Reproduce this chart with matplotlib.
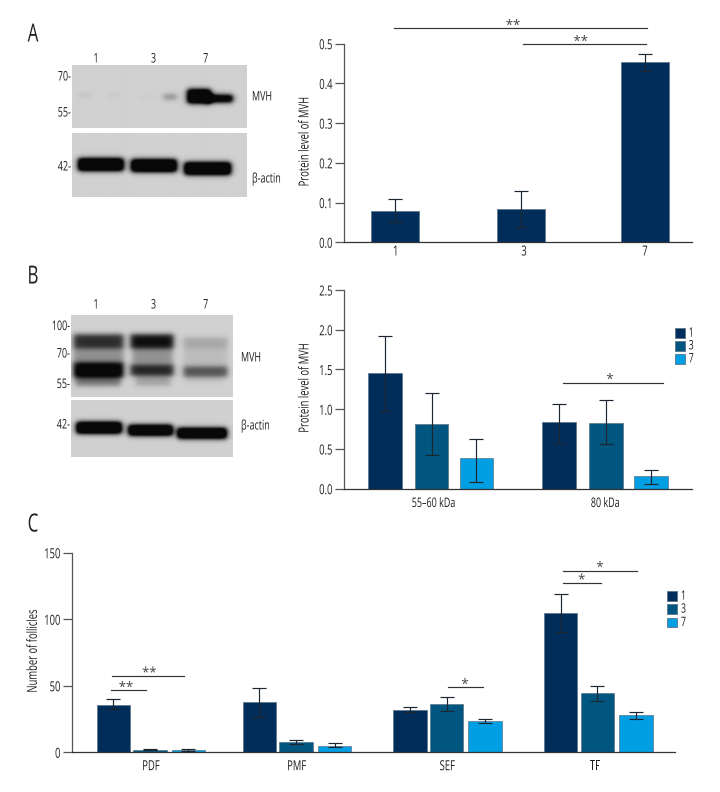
import numpy as np
import matplotlib
matplotlib.use("Agg")
import matplotlib.pyplot as plt
from matplotlib.patches import Rectangle
from matplotlib.lines import Line2D
from matplotlib.patheffects import AbstractPathEffect
from matplotlib.transforms import Affine2D, Bbox

plt.rcParams['font.family'] = ['Open Sans', 'DejaVu Sans']

W, H = 720, 792
DPI = 100
NAVY, TEAL, SKY = '#002d5a', '#00567f', '#009fe3'
TXT = '#1f1f1f'

# ---- data ----
a_days = ['1', '3', '7']
a_vals = [0.08, 0.085, 0.455]
a_low = [0.05, 0.038, 0.432]
a_up = [0.108, 0.13, 0.475]

b_groups = ['55–60 kDa', '80 kDa']
b_d1_vals, b_d1_low, b_d1_up = [1.45, 0.84], [0.98, 0.58], [1.92, 1.065]
b_d3_vals, b_d3_low, b_d3_up = [0.81, 0.83], [0.42, 0.56], [1.20, 1.115]
b_d7_vals, b_d7_low, b_d7_up = [0.38, 0.16], [0.08, 0.065], [0.625, 0.24]

c_groups = ['PDF', 'PMF', 'SEF', 'TF']
c_d1_vals, c_d1_low, c_d1_up = [35.5, 37.5, 31.8, 105], [32.3, 26.8, 30, 90.2], [39.8, 48, 33.8, 119]
c_d3_vals, c_d3_low, c_d3_up = [2, 7.5, 36, 44.6], [1.5, 6, 31.3, 38.6], [2.8, 9, 41.3, 49.6]
c_d7_vals, c_d7_low, c_d7_up = [1.5, 4.8, 23.3, 27.8], [1.2, 3.8, 22, 24.8], [2.2, 7, 24.8, 30]

# blot bands: x0, x1, y0, y1, strength (figure pixels)
blot_a_top = [(78, 92, 94, 97.5, 0.09), (108, 120, 94.5, 97.5, 0.07), (140, 152, 96.5, 99, 0.05),
              (163, 176, 95, 99.5, 0.4), (187, 210, 90, 103.5, 1.7), (205, 232, 95.5, 102.5, 1.5)]
blot_a_bot = [(78, 123, 158, 170, 1.7), (131, 176, 159, 171, 1.7), (184, 230, 162, 174, 1.7)]
blot_b_top = [(73, 123, 335, 349, 0.8), (73, 123, 349, 363, 0.3), (73, 123, 363, 378, 1.1),
              (75, 120, 378, 386, 0.45), (130, 173, 335, 349, 0.95), (132, 172, 349, 364, 0.3),
              (130, 173, 365, 376, 0.85), (135, 170, 376, 386, 0.22), (183, 227, 338, 349, 0.2),
              (183, 227, 349, 367, 0.1), (183, 227, 367, 377, 0.62), (185, 222, 377, 382, 0.1)]
blot_b_bot = [(76, 121, 422, 433, 1.7), (128, 172, 425, 435, 1.7), (177, 226, 428, 438, 1.7)]


class Condense(AbstractPathEffect):
    """Narrow the glyphs of a text about its anchor: the reference face is condensed."""

    def __init__(self, text, factor):
        super().__init__()
        self.text = text
        self.factor = factor

    def draw_path(self, renderer, gc, tpath, affine, rgbFace=None):
        cx, cy = self.text.get_transform().transform(self.text.get_position())
        f = self.factor
        if self.text.get_rotation() == 90:
            sq = Affine2D().translate(0, -cy).scale(1, f).translate(0, cy)
        else:
            sq = Affine2D().translate(-cx, 0).scale(f, 1).translate(cx, 0)
        renderer.draw_path(gc, tpath, affine + sq, rgbFace)


def condense(t, factor=0.68):
    t.set_path_effects([Condense(t, factor)])
    original = t.get_window_extent

    def extent(renderer=None, dpi=None):
        # report the area the narrowed glyphs really cover
        bb = original(renderer, dpi)
        cx, cy = t.get_transform().transform(t.get_position())
        if t.get_rotation() == 90:
            return Bbox.from_extents(bb.x0, cy + (bb.y0 - cy) * factor, bb.x1, cy + (bb.y1 - cy) * factor)
        return Bbox.from_extents(cx + (bb.x0 - cx) * factor, bb.y0, cx + (bb.x1 - cx) * factor, bb.y1)

    t.get_window_extent = extent
    return t


def rect(l, t, r, b):
    return [l / W, 1 - b / H, (r - l) / W, (b - t) / H]


def fx(x):
    return x / W


def fy(y):
    return 1 - y / H


fig = plt.figure(figsize=(W / DPI, H / DPI), dpi=DPI, facecolor='white')


def label(x, y, s, size=9.5, ha='center', va='center', rot=0, factor=0.68, color=TXT):
    t = fig.text(fx(x), fy(y), s, fontsize=size, ha=ha, va=va, rotation=rot, color=color)
    condense(t, factor)


def blot(l, t, r, b, bands, bg=0.82):
    ax = fig.add_axes(rect(l, t, r, b))
    xx, yy = np.meshgrid(np.arange(l, r, 0.5), np.arange(t, b, 0.5))
    dark = np.zeros_like(xx)
    for x0, x1, y0, y1, s in bands:
        ex, ey = 3.4, 2.9
        fxx = 0.5 * (np.tanh((xx - x0) / ex) - np.tanh((xx - x1) / ex))
        fyy = 0.5 * (np.tanh((yy - y0) / ey) - np.tanh((yy - y1) / ey))
        dark += s * fxx * fyy
    img = bg * (1 - np.clip(dark, 0, 0.96))
    ax.imshow(img, cmap='gray', vmin=0, vmax=1, aspect='auto', interpolation='bilinear',
              extent=(l, r, b, t))
    ax.axis('off')


def bars(rc, y0, y1, yticks, fmt, centers, widths, vals, low, up, colors):
    ax = fig.add_axes(rect(*rc))
    ax.set_xlim(rc[0], rc[2])
    ax.set_ylim(y0, y1)
    vals, low, up = map(np.array, (vals, low, up))
    ax.bar(centers, vals, width=widths, color=colors, edgecolor='#5c7488', linewidth=0.5, zorder=2)
    ax.errorbar(centers, vals, yerr=[vals - low, up - vals], fmt='none', ecolor='#1c2530',
                elinewidth=0.85, capsize=5.2, capthick=0.85, zorder=3)
    for s in ('top', 'right'):
        ax.spines[s].set_visible(False)
    ax.spines['left'].set_color('#555555')
    ax.spines['bottom'].set_color('#333333')
    ax.spines['left'].set_linewidth(0.9)
    ax.spines['bottom'].set_linewidth(0.9)
    ax.set_yticks(yticks)
    ax.set_yticklabels([fmt.format(v) for v in yticks], fontsize=10, color=TXT)
    ax.tick_params(axis='y', length=6.5, width=0.9, color='#555555', pad=2)
    for t in ax.get_yticklabels():
        condense(t)
    ax.set_xticks([])
    return ax


def sig(x0, x1, y, s, tx, ty):
    fig.add_artist(Line2D([fx(x0), fx(x1)], [fy(y), fy(y)], color='#333333', lw=0.85))
    label(tx, ty + 2, s, size=10, factor=0.95, color='#444444')


def swatches(x, ys, names):
    for y, c, n in zip(ys, (NAVY, TEAL, SKY), names):
        fig.add_artist(Rectangle((fx(x), fy(y + 9.7)), 10 / W, 9.7 / H, facecolor=c,
                                 edgecolor='#5c7488', linewidth=0.6, transform=fig.transFigure))
        label(x + 14, y + 4.8, n, size=9.3, ha='left')


# ---- panel letters ----
for x, y, s in ((33, 35, 'A'), (33, 277, 'B'), (33, 525, 'C')):
    label(x, y, s, size=18)

# ---- panel A ----
blot(72, 64.7, 246.3, 128.3, blot_a_top)
blot(72, 132.7, 246.3, 196.7, blot_a_bot)
for x, s in zip((96, 153.5, 205.7), a_days):
    label(x, 59, s)
for y, s in ((77, '70-'), (113, '55-'), (167, '42-')):
    label(71, y, s, ha='right')
label(252, 97, 'MVH', ha='left')
label(252, 179, 'β-actin', ha='left')

a_centers = [394.7, 521.3, 645]
bars((344.3, 43.7, 692, 242.3), 0, 0.5, [0, .1, .2, .3, .4, .5], '{:.1f}', a_centers, 48,
     a_vals, a_low, a_up, [NAVY] * 3)
for x, s in zip((395.7, 524, 645), a_days):
    label(x, 252, s, size=10)
label(305, 141.7, 'Protein level of MVH', rot=90, size=10)
sig(394.3, 646.7, 28.3, '**', 513, 24)
sig(523.3, 645.7, 44.3, '**', 580.7, 40)

# ---- panel B ----
blot(70.7, 315, 232.7, 397.3, blot_b_top)
blot(70.7, 400, 232.7, 457, blot_b_bot)
for x, s in zip((96, 153.5, 205.7), a_days):
    label(x, 305, s)
for y, s in ((326.5, '100-'), (354, '70-'), (384.5, '55-'), (425, '42-')):
    label(70, y, s, ha='right')
label(241, 358, 'MVH', ha='left')
label(241, 426, 'β-actin', ha='left')

b_x = [384.8, 431.5, 476.3, 559.2, 605.8, 650.8]
b_v = [b_d1_vals[0], b_d3_vals[0], b_d7_vals[0], b_d1_vals[1], b_d3_vals[1], b_d7_vals[1]]
b_l = [b_d1_low[0], b_d3_low[0], b_d7_low[0], b_d1_low[1], b_d3_low[1], b_d7_low[1]]
b_u = [b_d1_up[0], b_d3_up[0], b_d7_up[0], b_d1_up[1], b_d3_up[1], b_d7_up[1]]
bars((344.3, 290, 692.3, 488.7), 0, 2.5, [0, .5, 1, 1.5, 2, 2.5], '{:.1f}', b_x, 33.6,
     b_v, b_l, b_u, [NAVY, TEAL, SKY] * 2)
for x, s in zip((433.7, 605.3), b_groups):
    label(x, 503.5, s)
label(305, 388, 'Protein level of MVH', rot=90, size=10)
sig(563.3, 662.7, 383.3, '*', 610, 378)
swatches(674.7, (328.3, 341, 354), a_days)

# ---- panel C ----
c_x = [113.3, 150, 188.2, 259.3, 296, 334.7, 410, 446.7, 485, 560.5, 597.2, 635.8]
c_v = [v for t in zip(c_d1_vals, c_d3_vals, c_d7_vals) for v in t]
c_l = [v for t in zip(c_d1_low, c_d3_low, c_d7_low) for v in t]
c_u = [v for t in zip(c_d1_up, c_d3_up, c_d7_up) for v in t]
bars((72.3, 552.7, 675, 752.3), 0, 150, [0, 50, 100, 150], '{:d}', c_x, 33.4,
     c_v, c_l, c_u, [NAVY, TEAL, SKY] * 4)
for x, s in zip((151, 296.7, 447.3, 594.7), c_groups):
    label(x, 766.7, s, size=10)
label(33.3, 651, 'Number of follicles', rot=90, size=10)
sig(111, 145.7, 690.3, '**', 126, 686)
sig(112, 184.3, 676, '**', 149.3, 671.5)
sig(447.7, 482.7, 687.3, '*', 465, 683)
sig(563.3, 600.7, 583.3, '*', 581.7, 578.5)
sig(563.3, 637.3, 570.7, '*', 600, 566)
swatches(667, (591.3, 604.3, 617.7), a_days)

fig.savefig('out.png', dpi=DPI, facecolor='white')
